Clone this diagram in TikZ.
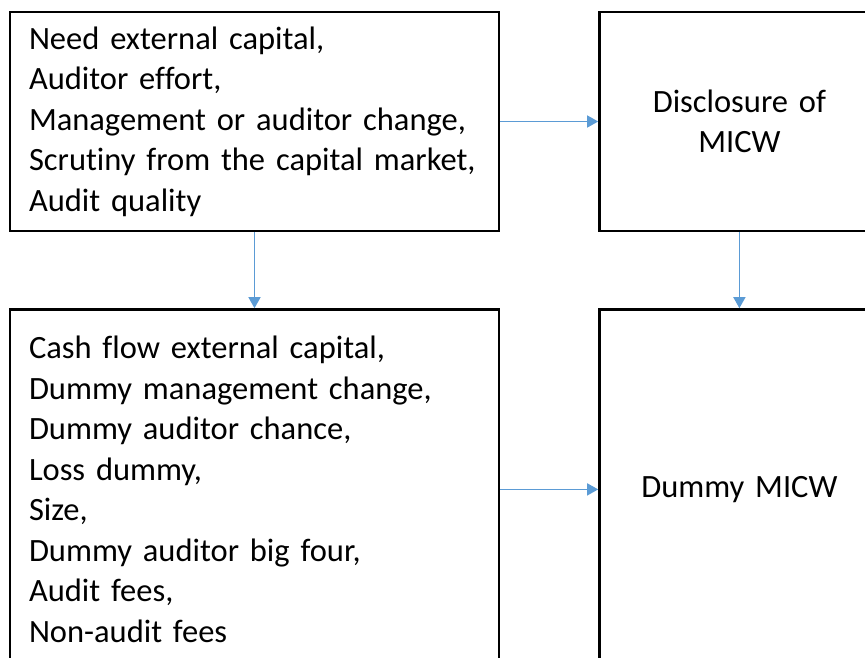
\documentclass[tikz,border=0pt]{standalone}
\usepackage{fontspec}
\setmainfont[Ligatures=NoCommon, WordSpace=0.85]{Carlito}
\usetikzlibrary{positioning, arrows.meta}
\definecolor{linkblue}{HTML}{5B9BD5}
\tikzstyle{factor} = [rectangle, 
draw=black, 
line width=2.4pt,
minimum width=489pt, 
inner xsep=19pt,
text width=451pt,
align=left,
font=\fontsize{32.5}{40.5}\selectfont]
\tikzstyle{outcome} = [rectangle, 
draw=black, 
line width=2.4pt,
minimum width=280pt, 
inner xsep=18pt,
text width=244pt,
align=center,
font=\fontsize{32.5}{40.5}\selectfont]
\tikzstyle{arrow} = [draw=linkblue, line width=1.4pt, -{Triangle[width=12pt,length=11pt]}]
\begin{document}
\begin{tikzpicture}[node distance=76pt and 98pt]
		\path[use as bounding box, clip] (0pt,0pt) rectangle (865pt,-657pt);
		\node (needs) [factor, minimum height=219pt] at (254.5pt,-121.5pt) {Need external capital,\\ Auditor effort,\\ Management or auditor change,\\ Scrutiny from the capital market,\\ Audit quality};
		\node (disc) [outcome, minimum height=219pt, right=of needs] {Disclosure of\\ MICW};
		\node (proxy) [factor, minimum height=360pt, below=of needs] {Cash flow external capital,\\ Dummy management change,\\ Dummy auditor chance,\\ Loss dummy,\\ Size,\\ Dummy auditor big four,\\ Audit fees,\\ Non-audit fees};
		\node (dummy) [outcome, minimum height=360pt, right=of proxy] {Dummy MICW};
		\draw [arrow] (needs) -- (disc);
		\draw [arrow] (needs) -- (proxy);
		\draw [arrow] (disc) -- (dummy);
		\draw [arrow] (proxy) -- (dummy);
	\end{tikzpicture}
\end{document}
